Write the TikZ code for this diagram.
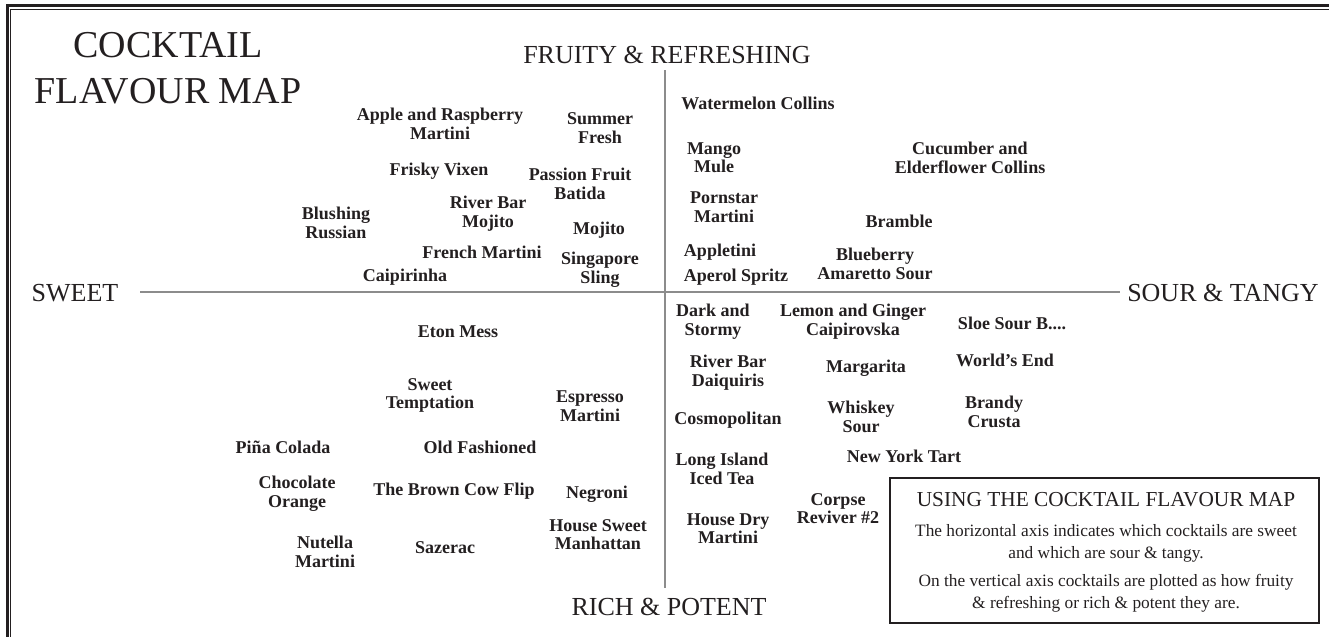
\documentclass[tikz,border=0pt]{standalone}
\usepackage{fontspec}
\setmainfont{Liberation Serif}
\definecolor{ink}{HTML}{231F20}
\definecolor{axisgray}{HTML}{8C8C8C}
\begin{document}
\begin{tikzpicture}[x=0.75pt,y=-0.75pt,
  lab/.style={font=\fontsize{13.5}{14}\selectfont\bfseries, align=center, text=ink, inner sep=0pt, text depth=0pt},
  axlab/.style={font=\fontsize{19.5}{20}\selectfont, text=ink, inner sep=0pt},
  axisline/.style={draw=axisgray, line width=1.5pt},
  boxtext/.style={font=\fontsize{13}{17}\selectfont, align=center, text=ink, inner sep=0pt, text depth=0pt}]
\useasboundingbox (0,0) rectangle (1329,636);
\clip (0,0) rectangle (1329,636);
% frame
\coordinate (fo1) at (1340,5.7); \coordinate (fo2) at (7.3,5.7); \coordinate (fo3) at (7.3,650);
\coordinate (fi1) at (1340,9.6); \coordinate (fi2) at (10.8,9.6); \coordinate (fi3) at (10.8,650);
\draw[ink, line width=2.1pt] (fo1) -- (fo2) -- (fo3);
\draw[ink, line width=0.8pt] (fi1) -- (fi2) -- (fi3);
% title
\node[font=\fontsize{28.5}{35}\selectfont, align=center, text=ink, inner sep=0pt, text depth=0pt] (title) at (168,68) {COCKTAIL\\FLAVOUR MAP};
% axes
\coordinate (vtop) at (665,70); \coordinate (vbot) at (665,588);
\coordinate (hleft) at (140,292); \coordinate (hright) at (1120,292);
\draw[axisline] (vtop) -- (vbot);
\draw[axisline] (hleft) -- (hright);
\node[axlab] (sweet) at (75,293) {SWEET};
\node[axlab] (sour) at (1223,293) {SOUR \& TANGY};
\node[axlab] (fruity) at (667,55) {FRUITY \& REFRESHING};
\node[axlab] (rich) at (669,607) {RICH \& POTENT};
% upper left
\node[lab] (applerasp) at (440,124) {Apple and Raspberry\\Martini};
\node[lab] (summer) at (600,128) {Summer\\Fresh};
\node[lab] (frisky) at (439,169) {Frisky Vixen};
\node[lab] (passion) at (580,183.5) {Passion Fruit\\Batida};
\node[lab] (rbmojito) at (488,211.5) {River Bar\\Mojito};
\node[lab] (blushing) at (336,222.5) {Blushing\\Russian};
\node[lab] (mojito) at (599,228) {Mojito};
\node[lab] (french) at (482,252) {French Martini};
\node[lab] (singapore) at (600,267.5) {Singapore\\Sling};
\node[lab] (caipirinha) at (405,275) {Caipirinha};
% upper right
\node[lab] (watermelon) at (758,103) {Watermelon Collins};
\node[lab] (mango) at (714,157.5) {Mango\\Mule};
\node[lab] (cucumber) at (970,157.5) {Cucumber and\\Elderflower Collins};
\node[lab] (pornstar) at (724,207) {Pornstar\\Martini};
\node[lab] (bramble) at (899,221) {Bramble};
\node[lab] (appletini) at (720,250) {Appletini};
\node[lab] (aperol) at (736,275) {Aperol Spritz};
\node[lab] (blueberry) at (875,264) {Blueberry\\Amaretto Sour};
% lower right
\node[lab] (dark) at (713,320) {Dark and\\Stormy};
\node[lab] (lemon) at (853,320) {Lemon and Ginger\\Caipirovska};
\node[lab] (sloe) at (1012,323) {Sloe Sour B....};
\node[lab] (rbdaiquiri) at (728,371) {River Bar\\Daiquiris};
\node[lab] (margarita) at (866,366) {Margarita};
\node[lab] (worlds) at (1005,360) {World’s End};
\node[lab] (cosmo) at (728,418) {Cosmopolitan};
\node[lab] (whiskey) at (861,417) {Whiskey\\Sour};
\node[lab] (brandy) at (994,412) {Brandy\\Crusta};
\node[lab] (nytart) at (904,456) {New York Tart};
\node[lab] (longisland) at (722,468.5) {Long Island\\Iced Tea};
\node[lab] (corpse) at (838,508.5) {Corpse\\Reviver \#2};
\node[lab] (housedry) at (728,528.5) {House Dry\\Martini};
% lower left
\node[lab] (eton) at (458,332) {Eton Mess};
\node[lab] (sweett) at (430,393.5) {Sweet\\Temptation};
\node[lab] (espresso) at (590,406) {Espresso\\Martini};
\node[lab] (pina) at (283,447) {Piña Colada};
\node[lab] (oldfash) at (480,447) {Old Fashioned};
\node[lab] (choc) at (297,491.5) {Chocolate\\Orange};
\node[lab] (browncow) at (454,489) {The Brown Cow Flip};
\node[lab] (negroni) at (597,492) {Negroni};
\node[lab] (housesweet) at (598,534.5) {House Sweet\\Manhattan};
\node[lab] (nutella) at (325,552) {Nutella\\Martini};
\node[lab] (sazerac) at (445,548) {Sazerac};
% info box
\node[draw=ink, line width=1.5pt, minimum width=321.75pt, minimum height=108.75pt, inner sep=0pt] (infobox) at (1104.5,550.5) {};
\node[font=\fontsize{16}{18}\selectfont, text=ink, inner sep=0pt] (infohead) at (1106,500) {USING THE COCKTAIL FLAVOUR MAP};
\node[boxtext] (infop1) at (1106,541.5) {The horizontal axis indicates which cocktails are sweet\\and which are sour \& tangy.};
\node[boxtext] (infop2) at (1106,591.5) {On the vertical axis cocktails are plotted as how fruity\\\& refreshing or rich \& potent they are.};
\end{tikzpicture}
\end{document}
